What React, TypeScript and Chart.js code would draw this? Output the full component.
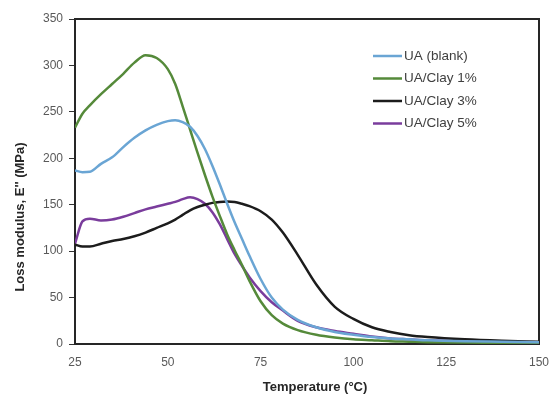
import React, { useEffect, useRef } from 'react';
import { Chart, registerables } from 'chart.js';

Chart.register(...registerables);

const temps = [25, 27, 29, 32, 35, 38, 41, 44, 47, 50, 52, 54, 56, 58, 60, 62, 64, 66, 68, 70, 72, 75, 78, 81, 85, 90, 95, 100, 105, 110, 115, 120, 130, 140, 150];
const uaBlank = [187, 185, 185.5, 194, 201, 212, 222, 230, 236, 240, 241, 239, 234, 224, 210, 192, 172, 151, 131, 113, 95, 70, 50, 37, 26, 18, 13, 10, 7.5, 6, 5, 4, 3, 2.5, 2];
const uaClay1 = [233, 248, 257, 269, 280, 291, 303, 311, 308, 296, 280, 256, 231, 206, 182, 159, 138, 118, 101, 85, 68, 46, 31, 22, 15, 10, 7, 5, 4, 3, 2.5, 2, 1.5, 1.2, 1];
const uaClay3 = [107, 105, 105, 108, 111, 113, 116, 120, 125, 130, 134, 139, 144, 147.5, 150, 152, 153, 153.5, 153, 151, 148.5, 143, 134, 120, 96, 64, 40, 27, 18, 13, 9.5, 7.5, 5, 3.5, 2.5];
const uaClay5 = [108, 132, 135, 133, 134, 137, 141, 145, 148, 151, 153, 156, 158, 156, 151, 142, 129, 113, 97, 84, 72, 57, 45, 36, 25, 18, 14, 11, 8, 6, 5, 4, 3, 2.5, 2];

const seriesLabels = ['UA (blank)', 'UA/Clay 1%', 'UA/Clay 3%', 'UA/Clay 5%'];
const seriesValues = [uaBlank, uaClay1, uaClay3, uaClay5];
const seriesColors = ['#6aa5d4', '#558a3a', '#1c1c1c', '#7a3c9c'];

const xTitle = 'Temperature (°C)';
const yTitle = "Loss modulus, E'' (MPa)";

const framePlugin = {
  id: 'frame',
  beforeDatasetsDraw(chart: any) {
    const { ctx, chartArea } = chart;
    ctx.save();
    ctx.strokeStyle = '#262626';
    ctx.lineWidth = 2;
    ctx.strokeRect(chartArea.left, chartArea.top, chartArea.right - chartArea.left, chartArea.bottom - chartArea.top);
    ctx.restore();
  },
};

const legendPlugin = {
  id: 'insideLegend',
  afterDatasetsDraw(chart: any) {
    const { ctx, chartArea } = chart;
    chart.data.datasets.forEach((ds: any, i: number) => {
      const y = chartArea.top + 37 + i * 22.5;
      const x0 = chartArea.left + 298;
      ctx.save();
      ctx.strokeStyle = ds.borderColor;
      ctx.lineWidth = 2.5;
      ctx.beginPath();
      ctx.moveTo(x0, y);
      ctx.lineTo(x0 + 29, y);
      ctx.stroke();
      ctx.fillStyle = '#404040';
      ctx.font = '13.5px "Liberation Sans"';
      ctx.textBaseline = 'middle';
      ctx.textAlign = 'left';
      ctx.fillText(ds.label, x0 + 31, y);
      ctx.restore();
    });
  },
};

const titlesPlugin = {
  id: 'axisTitles',
  afterDraw(chart: any) {
    const { ctx } = chart;
    ctx.save();
    ctx.fillStyle = '#262626';
    ctx.font = 'bold 13px "Liberation Sans"';
    ctx.textAlign = 'center';
    ctx.textBaseline = 'middle';
    ctx.fillText(xTitle, 315, 387);
    ctx.translate(20, 217);
    ctx.rotate(-Math.PI / 2);
    ctx.fillText(yTitle, 0, 0);
    ctx.restore();
  },
};

export default function App() {
  const ref = useRef<HTMLCanvasElement | null>(null);

  useEffect(() => {
    if (!ref.current) return;
    const chart = new Chart(ref.current, {
      type: 'line',
      data: {
        datasets: seriesLabels.map((label, i) => ({
          label,
          data: temps.map((t, j) => ({ x: t, y: seriesValues[i][j] })),
          borderColor: seriesColors[i],
          backgroundColor: seriesColors[i],
          borderWidth: 2.5,
          pointRadius: 0,
          fill: false,
          cubicInterpolationMode: 'monotone' as const,
        })),
      },
      options: {
        animation: false,
        responsive: false,
        devicePixelRatio: 1,
        layout: { padding: { top: 19, right: 13, left: 0, bottom: 0 } },
        plugins: {
          legend: { display: false },
          tooltip: { enabled: false },
        },
        scales: {
          x: {
            type: 'linear',
            min: 25,
            max: 150,
            afterFit: (scale: any) => {
              scale.height = 50;
              scale.paddingLeft = 0;
              scale.paddingRight = 0;
            },
            border: { display: false },
            grid: { display: true, drawOnChartArea: false, drawTicks: false },
            ticks: {
              stepSize: 25,
              padding: 11,
              color: '#595959',
              font: { family: 'Liberation Sans', size: 12 },
              maxRotation: 0,
            },
          },
          y: {
            min: 0,
            max: 350,
            afterFit: (scale: any) => {
              scale.width = 75;
              scale.paddingTop = 0;
              scale.paddingBottom = 0;
            },
            border: { display: false },
            grid: { drawOnChartArea: false, drawTicks: true, tickLength: 6, color: '#333333' },
            ticks: {
              stepSize: 50,
              padding: 6,
              color: '#595959',
              font: { family: 'Liberation Sans', size: 12 },
            },
          },
        },
      },
      plugins: [framePlugin, legendPlugin, titlesPlugin],
    });
    return () => chart.destroy();
  }, []);

  return (
    <div style={{ position: 'absolute', left: 0, top: 0, width: 552, height: 394, background: '#ffffff' }}>
      <canvas ref={ref} width={552} height={394} style={{ width: 552, height: 394 }} />
    </div>
  );
}
